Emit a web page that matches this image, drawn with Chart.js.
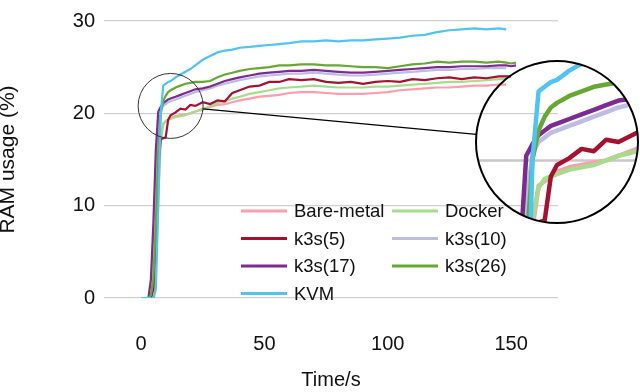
<!DOCTYPE html>
<html>
<head>
<meta charset="utf-8">
<script src="https://cdn.jsdelivr.net/npm/chart.js@4.4.0/dist/chart.umd.min.js"></script>
<style>
  body { margin: 0; background: #fff; }
  #wrap { width: 640px; height: 392px; }
</style>
</head>
<body>
<div id="wrap"><canvas id="myChart" width="640" height="392"></canvas></div>
<script>
// time axis (seconds) shared by all series
const times = [0, 3, 4, 5, 6, 7, 8, 9, 10, 11, 12, 14, 16, 18, 20, 22, 25, 28, 31, 34, 37, 40, 44, 48, 52, 56, 60,
  65, 70, 75, 80, 85, 90, 95, 100, 105, 110, 115, 120, 125, 130, 135, 140, 145, 148, 150, 152];

const bareMetal = [0, 0, 0, 0, 3, 11, 17, 18.9, 19.1, 19.3, 19.5, 19.7, 19.8, 19.9, 20.0, 20.2, 20.5, 20.7, 20.9, 21.0, 21.2, 21.4, 21.6, 21.8, 21.9, 22.0, 22.2,
  22.3, 22.3, 22.2, 22.1, 22.1, 22.1, 22.2, 22.3, 22.5, 22.6, 22.7, 22.8, 22.8, 22.9, 23.0, 23.0, 23.1, 23.1, null, null];
const docker = [0, 0, 0, 0.5, 5, 13, 17.5, 18.8, 19.2, 19.3, 19.4, 19.6, 19.7, 19.8, 20.0, 20.2, 20.4, 20.8, 21.1, 21.3, 21.6, 21.8, 22.1, 22.3, 22.5, 22.7, 22.8,
  22.9, 23.0, 22.9, 22.8, 22.8, 22.8, 22.9, 22.9, 23.0, 23.1, 23.2, 23.3, 23.4, 23.4, 23.5, 23.6, 23.7, 23.7, null, null];
const k3s5 = [0, 0, 0, 1, 6, 14, 17.2, 17.3, 17.4, 19.3, 19.8, 20.1, 20.5, 20.4, 20.9, 20.8, 21.2, 21.0, 21.4, 21.3, 22.2, 22.5, 22.9, 23.0, 23.4, 23.4, 23.7,
  23.6, 23.7, 23.4, 23.3, 23.4, 23.2, 23.4, 23.5, 23.4, 23.7, 23.6, 23.8, 23.9, 23.7, 23.9, 23.8, 24.0, 24.0, 24.0, null];
const k3s10 = [0, 0, 0.5, 4, 12, 18, 20.3, 20.8, 21.0, 21.2, 21.3, 21.5, 21.7, 21.9, 22.1, 22.3, 22.5, 22.7, 23.0, 23.2, 23.4, 23.6, 23.8, 24.0, 24.1, 24.2, 24.3,
  24.3, 24.4, 24.3, 24.2, 24.1, 24.1, 24.2, 24.3, 24.4, 24.5, 24.6, 24.7, 24.7, 24.8, 24.8, 24.9, 24.9, 24.9, null, null];
const k3s17 = [0, 0, 2, 8, 16, 20.2, 20.7, 21.1, 21.3, 21.5, 21.6, 21.8, 22.0, 22.2, 22.4, 22.6, 22.7, 22.9, 23.2, 23.5, 23.7, 23.9, 24.1, 24.3, 24.4, 24.5, 24.6,
  24.6, 24.7, 24.6, 24.5, 24.4, 24.4, 24.5, 24.6, 24.7, 24.8, 24.9, 25.0, 25.0, 25.1, 25.1, 25.1, 25.2, 25.2, 25.1, 25.2];
const k3s26 = [0, 0, 0.3, 2, 8, 16, 20, 21.3, 21.9, 22.3, 22.5, 22.8, 23.0, 23.2, 23.3, 23.4, 23.4, 23.5, 23.9, 24.2, 24.4, 24.6, 24.8, 24.9, 25.0, 25.2, 25.2,
  25.3, 25.3, 25.2, 25.2, 25.1, 25.0, 25.0, 24.9, 25.1, 25.3, 25.4, 25.6, 25.5, 25.6, 25.6, 25.5, 25.6, 25.5, 25.4, 25.5];
const kvm = [0, 0, 0, -0.2, 1, 10, 20, 23.0, 23.2, 23.4, 23.5, 23.9, 24.2, 24.5, 24.8, 25.2, 25.8, 26.2, 26.6, 26.8, 26.9, 27.1, 27.2, 27.3, 27.4, 27.5, 27.6,
  27.8, 27.8, 27.9, 27.8, 27.9, 27.9, 28.0, 28.1, 28.2, 28.4, 28.5, 28.8, 29.0, 29.1, 29.2, 29.1, 29.2, 29.1, null, null];

const seriesNames = ["Bare-metal", "Docker", "k3s(5)", "k3s(10)", "k3s(17)", "k3s(26)", "KVM"];
const seriesValues = [bareMetal, docker, k3s5, k3s10, k3s17, k3s26, kvm];
const seriesColors = ["#ff9cae", "#a8dc8c", "#a5122f", "#bdbde2", "#7d2b91", "#67a832", "#4fc3f1"];

const xTicks = [0, 50, 100, 150];
const yTicks = [0, 10, 20, 30];

const FONT = "'Liberation Sans', Arial, Helvetica, sans-serif";

// legend drawn inside the plot, two columns
const insideLegend = {
  id: "insideLegend",
  afterDraw(chart) {
    const ctx = chart.ctx;
    ctx.save();
    ctx.font = "18.5px " + FONT;
    ctx.textBaseline = "middle";
    chart.data.datasets.forEach((ds, i) => {
      const col = i % 2, row = Math.floor(i / 2);
      const x0 = 241 + col * 151;
      const y0 = 211 + row * 27.5;
      ctx.strokeStyle = ds.borderColor;
      ctx.lineWidth = 3;
      ctx.beginPath();
      ctx.moveTo(x0, y0);
      ctx.lineTo(x0 + 46, y0);
      ctx.stroke();
      ctx.fillStyle = "#111";
      ctx.fillText(ds.label, x0 + 53, y0 + 1);
    });
    ctx.restore();
  }
};

// magnifier: small circle on the knee, enlarged view on the right
const magnifier = {
  id: "magnifier",
  afterDraw(chart) {
    const ctx = chart.ctx;
    const xs = chart.scales.x, ys = chart.scales.y;
    const sx = xs.getPixelForValue(12), sy = ys.getPixelForValue(20.8), sr = 32.5;
    const bx = 557, by = 142, br = 81;
    const k = br / sr;
    const tx = (x) => bx + (x - sx) * k;
    const ty = (y) => by + (y - sy) * k;

    ctx.save();
    ctx.beginPath();
    ctx.arc(bx, by, br, 0, Math.PI * 2);
    ctx.clip();
    // enlarged grid line
    ctx.strokeStyle = "#c8c8c8";
    ctx.lineWidth = 2.5;
    yTicks.forEach(v => {
      const y = ty(ys.getPixelForValue(v));
      ctx.beginPath();
      ctx.moveTo(bx - br, y);
      ctx.lineTo(bx + br, y);
      ctx.stroke();
    });
    ctx.lineJoin = "round";
    ctx.lineWidth = 4.5;
    for (let i = 0; i < chart.data.datasets.length; i++) {
      const meta = chart.getDatasetMeta(i);
      ctx.strokeStyle = chart.data.datasets[i].borderColor;
      ctx.beginPath();
      let started = false;
      meta.data.forEach((pt, j) => {
        if (seriesValues[i][j] === null) { started = false; return; }
        if (!started) { ctx.moveTo(tx(pt.x), ty(pt.y)); started = true; }
        else ctx.lineTo(tx(pt.x), ty(pt.y));
      });
      ctx.stroke();
    }
    ctx.restore();

    ctx.save();
    ctx.strokeStyle = "#333";
    ctx.lineWidth = 1;
    ctx.beginPath();
    ctx.arc(sx, sy, sr, 0, Math.PI * 2);
    ctx.stroke();
    ctx.strokeStyle = "#000";
    ctx.lineWidth = 2;
    ctx.beginPath();
    ctx.arc(bx, by, br, 0, Math.PI * 2);
    ctx.stroke();
    const a = Math.atan2(by - sy, bx - sx);
    ctx.lineWidth = 1.3;
    ctx.beginPath();
    ctx.moveTo(sx + sr * Math.cos(a), sy + sr * Math.sin(a));
    ctx.lineTo(bx - br * Math.cos(a), by - br * Math.sin(a));
    ctx.stroke();
    ctx.restore();
  }
};

const canvas = document.getElementById("myChart");
const ctx = canvas.getContext("2d");

new Chart(ctx, {
  type: "line",
  data: {
    labels: times,
    datasets: seriesNames.map((name, i) => ({
      label: name,
      data: seriesValues[i].map((v, j) => ({ x: times[j], y: v })),
      borderColor: seriesColors[i],
      backgroundColor: seriesColors[i],
      borderWidth: 2.2,
      pointRadius: 0,
      tension: 0,
      fill: false,
      order: seriesNames.length - i
    }))
  },
  options: {
    responsive: false,
    animation: false,
    layout: { autoPadding: false, padding: { top: 7, right: 82, left: 0, bottom: 0 } },
    plugins: {
      legend: { display: false },
      tooltip: { enabled: false }
    },
    scales: {
      x: {
        type: "linear",
        min: -15,
        max: 169,
        afterBuildTicks: (scale) => { scale.ticks = xTicks.map(v => ({ value: v })); },
        afterFit: (scale) => { scale.height = 94; },
        grid: { display: false },
        border: { display: false },
        ticks: { padding: 26, color: "#111", font: { family: FONT, size: 20 } },
        title: { display: true, text: "Time/s", color: "#111", padding: { top: 0, bottom: 0 }, font: { family: FONT, size: 20 } }
      },
      y: {
        min: 0,
        max: 30,
        afterBuildTicks: (scale) => { scale.ticks = yTicks.map(v => ({ value: v })); },
        afterFit: (scale) => { scale.width = 104; },
        grid: { color: "#d0d0d0", lineWidth: 1.3, drawTicks: false },
        border: { display: false },
        ticks: { padding: 9, color: "#111", font: { family: FONT, size: 20 } },
        title: { display: true, text: "RAM usage (%)", color: "#111", padding: { top: 0, bottom: 0 }, font: { family: FONT, size: 21, lineHeight: 0.8 } }
      }
    }
  },
  plugins: [insideLegend, magnifier]
});
</script>
</body>
</html>
